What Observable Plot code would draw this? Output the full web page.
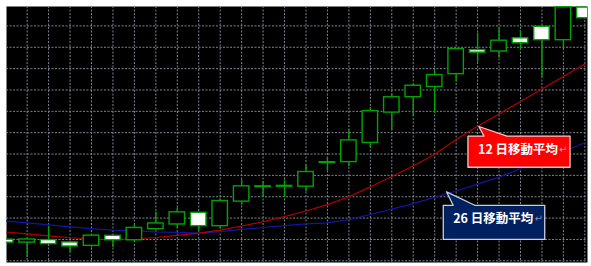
<!DOCTYPE html>
<html><head><meta charset="utf-8">
<script src="https://cdn.jsdelivr.net/npm/d3@7"></script>
<script src="https://cdn.jsdelivr.net/npm/@observablehq/plot@0.6"></script>
<style>html,body{margin:0;padding:0;background:#fff;}</style>
</head><body><div id="chart"></div>
<script>
// Daily candles (index 0..27), price units
const opens  = [1008.7,1009.8,1008.0,1006.9,1011.6,1009.8,1015.2,1017.3,1022.5,1016.4,1027.8,1034.7,1034.7,1034.9,1041.4,1046.0,1056.2,1069.9,1076.4,1081.8,1086.8,1099.0,1097.7,1102.9,1102.1,1103.5,1118.6,1113.8];
const highs  = [1009.7,1010.2,1016.1,1008.8,1012.1,1011.9,1016.8,1022.7,1024.7,1022.3,1028.9,1037.8,1037.0,1037.5,1044.8,1048.4,1061.0,1071.7,1078.2,1082.8,1088.8,1099.4,1106.6,1109.0,1107.9,1109.4,1120.0,1118.4];
const lows   = [1008.7,1001.6,1007.6,1004.1,1006.2,1006.2,1009.0,1014.3,1015.0,1013.9,1014.9,1026.0,1029.7,1029.7,1032.3,1042.0,1044.0,1053.1,1061.0,1067.7,1069.1,1083.7,1093.0,1094.9,1098.5,1086.0,1099.3,1113.8];
const closes = [1009.7,1008.7,1009.5,1008.4,1007.2,1011.5,1009.8,1015.0,1017.2,1022.3,1016.4,1027.9,1034.7,1034.9,1034.9,1046.0,1046.4,1055.4,1069.6,1076.8,1081.6,1087.6,1098.5,1098.2,1104.0,1109.4,1103.5,1118.4];
// Moving averages
const ma12 = [1013.5,1012.6,1011.7,1010.8,1010.2,1010.0,1010.2,1010.9,1011.9,1013.0,1014.4,1016.3,1018.3,1020.7,1023.3,1026.3,1030.0,1034.6,1039.5,1044.4,1049.9,1056.8,1063.0,1068.8,1074.6,1080.5,1086.3,1092.2];
const ma26 = [1018.6,1017.8,1016.8,1015.9,1015.1,1014.4,1014.0,1013.5,1013.3,1013.0,1013.7,1014.7,1015.6,1016.5,1017.3,1017.8,1019.3,1021.7,1024.2,1026.8,1029.7,1032.7,1035.9,1039.2,1043.2,1047.2,1051.2,1055.3];
const priceTicks = [1000,1010,1020,1030,1040,1050,1060,1070,1080,1090,1100,1110];
const labels = ["12 日移動平均", "26 日移動平均"];

const candles = opens.map((o, i) => ({i, o, h: highs[i], l: lows[i], c: closes[i], up: closes[i] > o}));
const ma12Data = ma12.map((v, i) => ({i, v}));
const ma26Data = ma26.map((v, i) => ({i, v}));
const idx = d3.range(opens.length);

// callouts in data coordinates (index, price)
const callouts = [
  {label: labels[0], fill: "#ff0000", stroke: "#ffc4c4", tip: [22.06, 1062.9], box: [21.55, 26.31, 1043.8, 1058.4], base: [22.30, 23.37], tx: 22.02, ty: 1051.9, mx: 25.79, mark: "#d9a0a0"},
  {label: labels[1], fill: "#002060", stroke: "#c8d0e0", tip: [20.55, 1032.3], box: [20.40, 25.13, 1010.0, 1026.0], base: [20.86, 21.87], tx: 20.86, ty: 1019.6, mx: 24.65, mark: "#8090b0"}
];
const poly = c => [
  [c.box[0], c.box[3]], [c.base[0], c.box[3]], c.tip, [c.base[1], c.box[3]],
  [c.box[1], c.box[3]], [c.box[1], c.box[2]], [c.box[0], c.box[2]]
];

const green = "#00a400";
const hw = 0.36;
const font = "'Noto Sans CJK JP', 'Noto Sans', sans-serif";

const marks = [
  Plot.frame({fill: "black", stroke: null}),
  Plot.ruleY(priceTicks, {stroke: "#7d8591", strokeWidth: 1, strokeDasharray: "2,1.5", clip: true}),
  Plot.ruleX(idx, {stroke: "#7d8591", strokeWidth: 1, strokeDasharray: "2,1.5", clip: true}),
  Plot.line(ma26Data, {x: "i", y: "v", stroke: "#1414a8", strokeWidth: 1.2, clip: true}),
  Plot.line(ma12Data, {x: "i", y: "v", stroke: "#b40000", strokeWidth: 1.2, clip: true}),
  Plot.ruleX(candles, {x: "i", y1: "l", y2: "h", stroke: green, strokeWidth: 1.4, clip: true}),
  Plot.rect(candles, {
    x1: d => d.i - hw, x2: d => d.i + hw,
    y1: d => Math.min(d.o, d.c), y2: d => Math.max(d.o, d.c),
    fill: d => d.up ? "white" : "black", stroke: green, strokeWidth: 1.4,
    insetTop: -0.4, insetBottom: -0.4, clip: true
  })
];
for (const c of callouts) {
  const pts = poly(c);
  marks.push(Plot.line(pts, {x: d => d[0], y: d => d[1], curve: "linear-closed", fill: c.fill, stroke: c.stroke, strokeWidth: 1.3, clip: true}));
  marks.push(Plot.text([c], {x: "tx", y: "ty", text: "label", textAnchor: "start", fill: "white", fontSize: 12.5, fontWeight: "bold", fontFamily: font}));
  marks.push(Plot.text([c], {x: "mx", y: "ty", text: () => "↵", textAnchor: "start", fill: c.mark, fontSize: 10, fontFamily: "DejaVu Sans"}));
}

const chart = Plot.plot({
  width: 591, height: 266,
  marginLeft: 6, marginRight: 4, marginTop: 6, marginBottom: 4,
  style: {background: "white"},
  x: {domain: [0.0373, 27.124], axis: null},
  y: {domain: [999.2, 1119.1], axis: null},
  marks
});
document.getElementById("chart").append(chart);
</script>
</body></html>
